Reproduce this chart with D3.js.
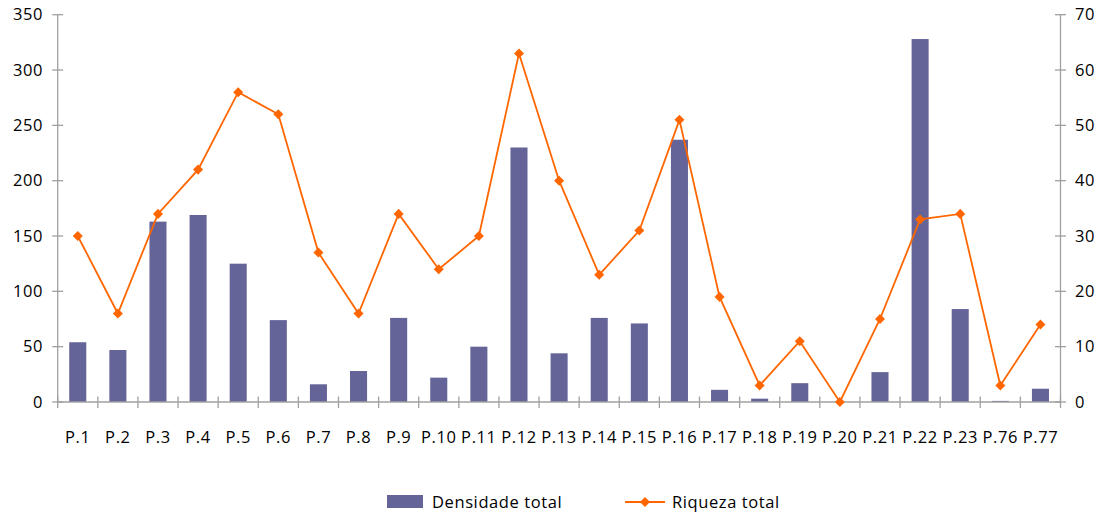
<!DOCTYPE html>
<html><head><meta charset="utf-8">
<script src="https://cdn.jsdelivr.net/npm/d3@7"></script>
<style>body{margin:0;background:#fff}svg{display:block}text{font-family:"Open Sans",sans-serif;fill:#000;letter-spacing:0.6px}</style>
</head><body><svg id="c" width="1102" height="513"></svg>
<script>
const categories = ["P.1","P.2","P.3","P.4","P.5","P.6","P.7","P.8","P.9","P.10","P.11","P.12","P.13","P.14","P.15","P.16","P.17","P.18","P.19","P.20","P.21","P.22","P.23","P.76","P.77"];
const densidade = [54,47,163,169,125,74,16,28,76,22,50,230,44,76,71,237,11,3,17,0,27,328,84,1,12];
const riqueza = [30,16,34,42,56,52,27,16,34,24,30,63,40,23,31,51,19,3,11,0,15,33,34,3,14];
const leftTicks = [0,50,100,150,200,250,300,350];
const rightTicks = [0,10,20,30,40,50,60,70];
const seriesNames = ["Densidade total","Riqueza total"];

const svg = d3.select("#c");
const L = 57.7, R = 1060.5, T = 14.7, B = 402;
const x = d3.scaleBand().domain(categories).range([L, R]).paddingInner(0.575).paddingOuter(0.2875);
const xb = d3.scaleBand().domain(categories).range([L, R]);
const yL = d3.scaleLinear().domain([0,350]).range([B, T]);
const yR = d3.scaleLinear().domain([0,70]).range([B, T]);
const axisCol = "#a0a0a0";

// bars
svg.append("g").selectAll("rect").data(densidade).join("rect")
  .attr("x", (d,i)=>x(categories[i])).attr("width", x.bandwidth())
  .attr("y", d=>yL(d)).attr("height", d=>B - yL(d)).attr("fill", "#646499");

// axes lines
const g = svg.append("g").attr("stroke", axisCol).attr("stroke-width", 1.3);
g.append("line").attr("x1", L).attr("x2", L).attr("y1", T).attr("y2", B);
g.append("line").attr("x1", R).attr("x2", R).attr("y1", T).attr("y2", B);
g.append("line").attr("x1", L).attr("x2", R).attr("y1", B).attr("y2", B);
g.selectAll(".lt").data(leftTicks).join("line").attr("x1", L-5.5).attr("x2", L+5.5).attr("y1", d=>yL(d)).attr("y2", d=>yL(d));
g.selectAll(".rt").data(rightTicks).join("line").attr("x1", R-5.5).attr("x2", R+5.5).attr("y1", d=>yR(d)).attr("y2", d=>yR(d));
const bounds = categories.map(c=>xb(c)).concat([R]);
g.selectAll(".xt").data(bounds).join("line").attr("x1", d=>d).attr("x2", d=>d).attr("y1", B-5.5).attr("y2", B+6);

// tick labels
svg.append("g").selectAll("text").data(leftTicks).join("text")
  .attr("x", 43).attr("y", d=>yL(d)).attr("dy", "0.35em").attr("text-anchor", "end")
  .attr("font-size", 16.5).text(d=>d);
svg.append("g").selectAll("text").data(rightTicks).join("text")
  .attr("x", 1075).attr("y", d=>yR(d)).attr("dy", "0.35em").attr("text-anchor", "start")
  .attr("font-size", 16.5).text(d=>d);
svg.append("g").selectAll("text").data(categories).join("text")
  .attr("x", d=>xb(d)+xb.bandwidth()/2).attr("y", 437).attr("dy", "0.35em").attr("text-anchor", "middle")
  .attr("font-size", 16.5).text(d=>d);

// line
const cx = i => xb(categories[i]) + xb.bandwidth()/2;
const line = d3.line().x((d,i)=>cx(i)).y(d=>yR(d));
svg.append("path").datum(riqueza).attr("d", line).attr("fill","none").attr("stroke","#ff6600").attr("stroke-width",1.8);
const diamond = d3.symbol().type(d3.symbolDiamond2).size(64);
svg.append("g").selectAll("path").data(riqueza).join("path")
  .attr("transform", (d,i)=>`translate(${cx(i)},${yR(d)})`).attr("d", diamond).attr("fill","#ff6600");

// legend
const lg = svg.append("g");
lg.append("rect").attr("x", 387).attr("y", 495).attr("width", 36).attr("height", 13).attr("fill", "#646499");
lg.append("text").attr("x", 432).attr("y", 502).attr("dy","0.35em").attr("font-size", 16.5).text(seriesNames[0]);
lg.append("line").attr("x1", 625).attr("x2", 665).attr("y1", 502).attr("y2", 502).attr("stroke","#ff6600").attr("stroke-width",1.8);
lg.append("path").attr("transform","translate(645,502)").attr("d", diamond).attr("fill","#ff6600");
lg.append("text").attr("x", 672).attr("y", 502).attr("dy","0.35em").attr("font-size", 16.5).text(seriesNames[1]);
</script></body></html>
